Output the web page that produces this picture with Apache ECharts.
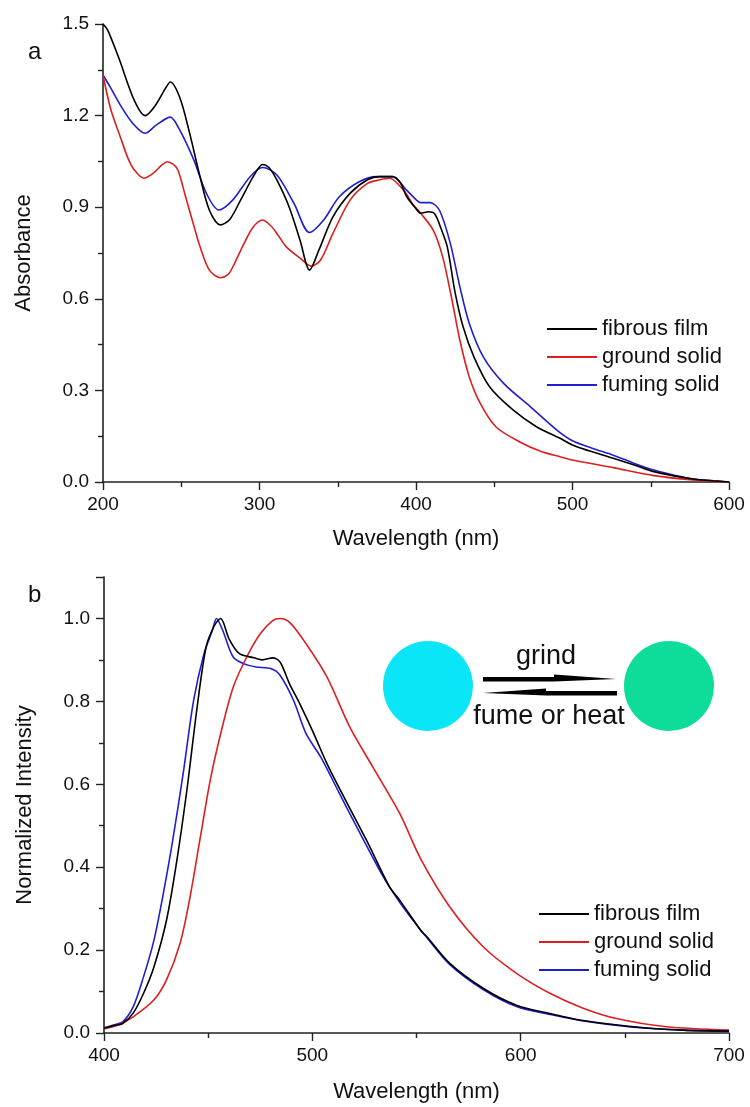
<!DOCTYPE html>
<html>
<head>
<meta charset="utf-8">
<script src="https://cdn.jsdelivr.net/npm/echarts/dist/echarts.min.js"></script>
<style>
  html, body { margin: 0; padding: 0; background: #fff; }
  #main { width: 750px; height: 1107px; }
</style>
</head>
<body>
<div id="main"></div>
<script>
// panel a: absorbance, [wavelength, value]
var absFibrous = [[200,1.50],[203,1.48],[210,1.39],[220,1.25],[227,1.20],[233,1.23],[240,1.29],[243,1.31],[249,1.26],[255,1.15],[262,1.00],[268,0.89],[275,0.842],[281,0.86],[288,0.924],[296,1.00],[302,1.04],[306,1.03],[311,0.99],[319,0.90],[326,0.79],[332,0.694],[338,0.76],[347,0.869],[358,0.946],[369,0.99],[377,1.0],[385,1.0],[390,0.98],[394,0.935],[400,0.895],[403,0.88],[408,0.885],[412,0.878],[416,0.83],[420,0.77],[425,0.62],[430,0.51],[437,0.41],[447,0.312],[462,0.236],[477,0.181],[492,0.143],[500,0.121],[510,0.103],[526,0.078],[540,0.055],[552,0.034],[565,0.02],[577,0.01],[590,0.004],[600,0.0]];
var absGround = [[200,1.333],[205,1.22],[211,1.131],[216,1.06],[220,1.022],[226,0.995],[232,1.011],[238,1.04],[241,1.049],[245,1.04],[248,1.02],[253,0.93],[258,0.84],[262,0.771],[268,0.694],[275,0.669],[280,0.68],[283,0.705],[290,0.78],[296,0.835],[302,0.858],[307,0.84],[311,0.815],[317,0.771],[326,0.733],[333,0.707],[339,0.727],[347,0.815],[358,0.924],[369,0.978],[377,0.99],[383,0.995],[392,0.956],[398,0.91],[403,0.88],[411,0.825],[417,0.738],[423,0.596],[428,0.465],[434,0.345],[441,0.258],[451,0.181],[466,0.132],[480,0.10],[492,0.083],[500,0.072],[526,0.047],[552,0.021],[577,0.007],[600,0.0]];
var absFuming = [[200,1.333],[205,1.29],[211,1.235],[219,1.175],[227,1.142],[234,1.169],[243,1.195],[249,1.153],[258,1.055],[266,0.946],[274,0.891],[283,0.924],[294,1.0],[302,1.03],[311,1.006],[322,0.913],[332,0.817],[341,0.858],[351,0.934],[364,0.984],[375,1.0],[385,1.0],[394,0.956],[400,0.925],[403,0.915],[409,0.915],[415,0.89],[422,0.78],[428,0.64],[434,0.52],[443,0.41],[456,0.323],[473,0.247],[490,0.17],[500,0.135],[513,0.11],[526,0.088],[540,0.06],[552,0.039],[565,0.022],[577,0.01],[600,0.0]];

// panel b: normalized emission
var plFibrous = [[400,0.012],[405,0.018],[409,0.023],[414,0.048],[419,0.096],[424,0.16],[430,0.272],[435,0.417],[440,0.594],[444.5,0.778],[449,0.931],[453,0.983],[456,1.0],[460,0.951],[465,0.915],[472,0.905],[476,0.9],[481,0.905],[484.5,0.895],[489,0.843],[494,0.794],[500,0.73],[507,0.65],[516,0.561],[526,0.465],[537,0.353],[542,0.32],[552,0.248],[555,0.232],[566,0.168],[582,0.108],[598,0.067],[614,0.047],[630,0.03],[654,0.015],[678,0.007],[700,0.005]];
var plGround = [[400,0.01],[407,0.02],[414,0.039],[424,0.08],[430,0.128],[436.5,0.216],[441,0.32],[446,0.465],[451,0.61],[456,0.722],[462,0.834],[468.5,0.907],[475,0.963],[481,0.995],[484.5,1.0],[489,0.991],[497,0.939],[507,0.859],[518,0.738],[529,0.642],[542,0.529],[552,0.42],[566,0.304],[582,0.208],[598,0.144],[614,0.096],[630,0.06],[646,0.035],[670,0.015],[700,0.007]];
var plFuming = [[400,0.012],[405,0.02],[409,0.027],[414,0.063],[419,0.136],[424,0.224],[428.5,0.337],[433,0.465],[438,0.626],[443,0.802],[448,0.915],[452,0.971],[454,1.0],[457,0.971],[462,0.907],[467,0.891],[473,0.883],[480,0.879],[484.5,0.863],[491,0.802],[497,0.722],[504,0.666],[513,0.578],[523,0.481],[534,0.377],[542,0.315],[552,0.248],[555,0.23],[566,0.165],[582,0.105],[598,0.064],[614,0.045],[630,0.029],[654,0.014],[678,0.007],[700,0.004]];

var names = ['fibrous film', 'ground solid', 'fuming solid'];
var colors = ['#000000', '#dc1f1f', '#1f1fd0'];

var font = 'Liberation Sans, Arial, sans-serif';
var axisCol = '#222';

function xAx(grid, min, max) {
  return {
    type: 'value', gridIndex: grid, min: min, max: max, interval: 100,
    name: 'Wavelength (nm)', nameLocation: 'middle', nameGap: grid == 0 ? 46 : 48,
    nameTextStyle: { fontSize: 22, color: '#111', fontFamily: font },
    axisLine: { onZero: false, lineStyle: { color: axisCol, width: 1.6 } },
    axisTick: { length: 8, lineStyle: { color: axisCol, width: 1.4 } },
    minorTick: { show: true, splitNumber: 2, length: 5, lineStyle: { color: axisCol, width: 1.4 } },
    axisLabel: { fontSize: 19, color: '#111', fontFamily: font, margin: 13 },
    splitLine: { show: false }
  };
}
function yAx(grid, max, step, nm) {
  return {
    type: 'value', gridIndex: grid, min: 0, max: max, interval: step,
    name: nm, nameLocation: 'middle', nameGap: 68, nameRotate: 90,
    nameTextStyle: { fontSize: 22, color: '#111', fontFamily: font },
    axisLine: { show: true, onZero: false, lineStyle: { color: axisCol, width: 1.6 } },
    axisTick: { show: true, length: 8, lineStyle: { color: axisCol, width: 1.4 } },
    minorTick: { show: true, splitNumber: 2, length: 5, lineStyle: { color: axisCol, width: 1.4 } },
    axisLabel: { fontSize: 19, color: '#111', fontFamily: font, margin: 14, showMaxLabel: grid == 0,
      formatter: function (v) { return v.toFixed(1); } },
    splitLine: { show: false }
  };
}
function line(name, data, i, x, y) {
  return {
    name: name, type: 'line', data: data, xAxisIndex: x, yAxisIndex: y,
    symbol: 'none', smooth: 0.3,
    lineStyle: { color: colors[i], width: 1.6 }, itemStyle: { color: colors[i] },
    z: 3 - i
  };
}
function legendAt(left, top) {
  return {
    orient: 'vertical', left: left, top: top, icon: 'rect',
    itemWidth: 50, itemHeight: 2, itemGap: 6, data: names,
    textStyle: { fontSize: 22, lineHeight: 22, color: '#111', fontFamily: font }
  };
}

var chart = echarts.init(document.getElementById('main'));
chart.setOption({
  backgroundColor: '#fff',
  animation: false,
  grid: [
    { left: 103, top: 24, width: 626, height: 458 },
    { left: 104, top: 577, width: 625, height: 456 }
  ],
  xAxis: [xAx(0, 200, 600), xAx(1, 400, 700)],
  yAxis: [yAx(0, 1.5, 0.3, 'Absorbance'), yAx(1, 1.1, 0.2, 'Normalized Intensity')],
  legend: [legendAt(542, 313), legendAt(534, 898)],
  graphic: [
    { type: 'text', left: 28, top: 40, style: { text: 'a', fontSize: 24, fill: '#111', fontFamily: font } },
    { type: 'text', left: 28, top: 583, style: { text: 'b', fontSize: 24, fill: '#111', fontFamily: font } },
    { type: 'circle', shape: { cx: 428, cy: 686, r: 45 }, style: { fill: '#0ae6f8' } },
    { type: 'circle', shape: { cx: 669, cy: 686, r: 45 }, style: { fill: '#0ddc9a' } },
    { type: 'text', x: 546, y: 657, style: { text: 'grind', fontSize: 27, fill: '#111', fontFamily: font, align: 'center', verticalAlign: 'middle' } },
    { type: 'text', x: 549, y: 717, style: { text: 'fume or heat', fontSize: 27, fill: '#111', fontFamily: font, align: 'center', verticalAlign: 'middle' } },
    { type: 'polygon', shape: { points: [[483,677],[554,677],[554,674.5],[616,679],[554,681.5],[483,681.5]] }, style: { fill: '#000' } },
    { type: 'polygon', shape: { points: [[617,691],[546,691],[546,688.5],[483,693],[546,695.5],[617,695.5]] }, style: { fill: '#000' } }
  ],
  series: [
    line(names[0], absFibrous, 0, 0, 0),
    line(names[1], absGround, 1, 0, 0),
    line(names[2], absFuming, 2, 0, 0),
    line(names[0], plFibrous, 0, 1, 1),
    line(names[1], plGround, 1, 1, 1),
    line(names[2], plFuming, 2, 1, 1)
  ]
});
</script>
</body>
</html>
